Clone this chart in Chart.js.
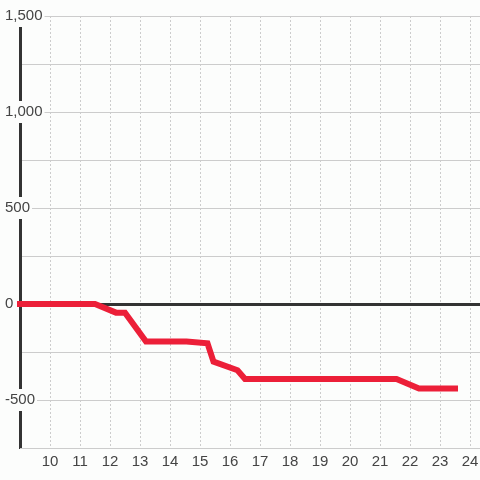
<!DOCTYPE html>
<html>
<head>
<meta charset="utf-8">
<script src="https://cdn.jsdelivr.net/npm/chart.js@4.4.1/dist/chart.umd.min.js"></script>
<style>
html,body{margin:0;padding:0;background:#fcfdfc;}
canvas{display:block;}
</style>
</head>
<body>
<canvas id="c" width="480" height="480"></canvas>
<script>
// data
const xValues = [8, 11.5, 12.2, 12.5, 13.2, 14.55, 15.25, 15.45, 16.25, 16.5, 21.55, 22.3, 23.6];
const yValues = [0, 0, -45, -45, -195, -195, -205, -300, -345, -390, -390, -440, -440];
const xTickValues = [10, 11, 12, 13, 14, 15, 16, 17, 18, 19, 20, 21, 22, 23, 24];
const yLabelValues = [-500, 0, 500, 1000, 1500];

const BG = '#fcfdfc';
const FONT = {family: "'Liberation Sans', Arial, sans-serif", size: 15};

new Chart(document.getElementById('c'), {
  type: 'line',
  data: {
    datasets: [{
      data: xValues.map((x, i) => ({x: x, y: yValues[i]})),
      borderColor: '#ec1f38',
      borderWidth: 6,
      pointRadius: 0,
      tension: 0,
      fill: false,
      clip: {left: 3, right: 3, top: 3, bottom: 3}
    }]
  },
  options: {
    responsive: false,
    animation: false,
    devicePixelRatio: 1,
    layout: {padding: {left: 5, top: 16, right: 0, bottom: 4}},
    plugins: {legend: {display: false}, tooltip: {enabled: false}},
    scales: {
      y: {
        type: 'linear',
        position: 'left',
        min: -750,
        max: 1500,
        afterFit: s => { s.width = 15; },
        ticks: {
          stepSize: 250,
          font: FONT,
          color: '#444',
          mirror: true,
          crossAlign: 'near',
          padding: -15,
          showLabelBackdrop: true,
          backdropPadding: 2,
          backdropColor: ctx => yLabelValues.includes(ctx.tick.value) ? BG : 'rgba(0,0,0,0)',
          callback: v => yLabelValues.includes(v) ? v.toLocaleString('en-US') : ''
        },
        grid: {
          drawTicks: false,
          z: -1,
          color: ctx => (ctx.tick && ctx.tick.value === 0) ? '#333' : '#cccccc',
          lineWidth: ctx => (ctx.tick && ctx.tick.value === 0) ? 3 : 1
        },
        border: {color: '#333', width: 3}
      },
      x: {
        type: 'linear',
        position: 'bottom',
        min: 9,
        max: 24.3333,
        afterBuildTicks: s => { s.ticks = xTickValues.map(v => ({value: v})); },
        afterFit: s => { s.paddingLeft = 0; s.paddingRight = 0; },
        ticks: {
          font: FONT,
          color: '#444',
          padding: 5,
          maxRotation: 0,
          autoSkip: false,
          callback: v => String(v)
        },
        grid: {drawTicks: false, z: -2, color: '#cccccc', lineWidth: 1},
        border: {color: '#cccccc', width: 1, dash: [2, 2]}
      }
    }
  }
});
</script>
</body>
</html>
